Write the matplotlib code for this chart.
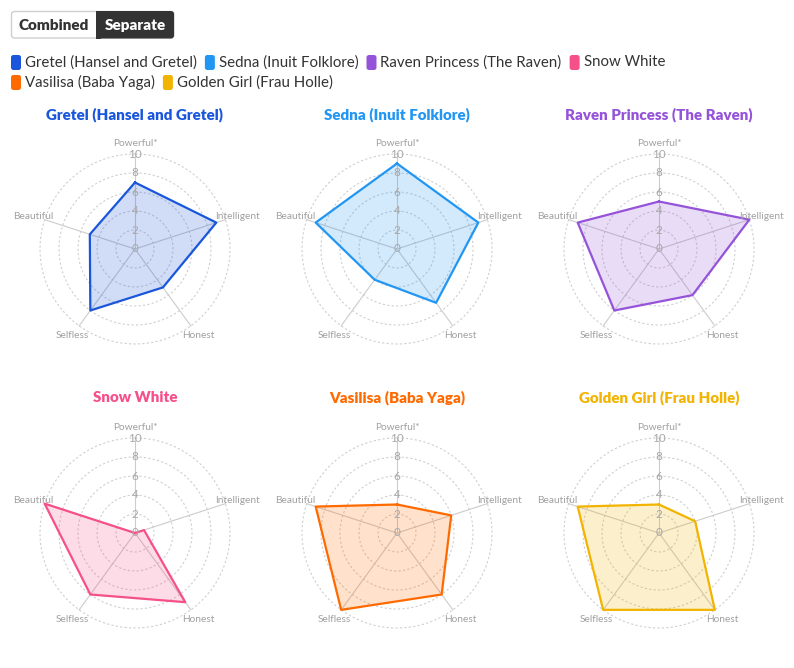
import matplotlib
matplotlib.use('Agg')
import matplotlib.pyplot as plt
import numpy as np
from matplotlib.patches import FancyBboxPatch, Rectangle
from matplotlib.transforms import Affine2D

plt.rcParams['font.family'] = ['Lato', 'DejaVu Sans']

# ---------------- data ----------------
axis_labels = ['Powerful*', 'Intelligent', 'Honest', 'Selfless', 'Beautiful']
names = ['Gretel (Hansel and Gretel)', 'Sedna (Inuit Folklore)', 'Raven Princess (The Raven)',
         'Snow White', 'Vasilisa (Baba Yaga)', 'Golden Girl (Frau Holle)']
colors = ['#1a56db', '#2196f3', '#9553d9', '#f5508a', '#ff6a00', '#f2b400']
gretel = [7, 9, 5, 8, 5]
sedna = [9, 9, 7, 4, 9]
raven = [5, 10, 6, 8, 9]
snow_white = [0, 1, 9, 8, 10]
vasilisa = [3, 6, 8, 10, 9]
golden_girl = [3, 4, 10, 10, 9]
series = [gretel, sedna, raven, snow_white, vasilisa, golden_girl]
ticks = [0, 2, 4, 6, 8, 10]
rmax = 10

# ---------------- figure ----------------
W, H = 794, 668
fig = plt.figure(figsize=(W / 100, H / 100), dpi=100)
fig.patch.set_facecolor('white')
pix = Affine2D().scale(1 / W, -1 / H).translate(0, 1) + fig.transFigure

# toggle button
fig.patches.append(FancyBboxPatch((11.5, 11.5), 162.5, 26.5, boxstyle='round,pad=0,rounding_size=3',
                                  transform=pix, facecolor='white', edgecolor='#cfcfcf', lw=1))
fig.patches.append(FancyBboxPatch((96, 11), 78, 27.5, boxstyle='round,pad=0,rounding_size=3',
                                  transform=pix, facecolor='#333333', edgecolor='none'))
fig.patches.append(Rectangle((96, 11), 5, 27.5, transform=pix, facecolor='#333333', edgecolor='none'))
fig.text(53.5, 25, 'Combined', transform=pix, ha='center', va='center', fontsize=11,
         fontweight='heavy', color='#333333')
fig.text(135, 25, 'Separate', transform=pix, ha='center', va='center', fontsize=11,
         fontweight='heavy', color='white')

# legend (flow layout)
renderer = fig.canvas.get_renderer()
rows = [[0, 1, 2, 3], [4, 5]]
row_y = [62.5, 82.5]
for r, idxs in enumerate(rows):
    x = 11
    for i in idxs:
        y = row_y[r]
        fig.patches.append(FancyBboxPatch((x, y - 7.5), 10, 15, boxstyle='round,pad=0,rounding_size=2.5',
                                          transform=pix, facecolor=colors[i], edgecolor='none'))
        t = fig.text(x + 14, y, names[i], transform=pix, ha='left', va='center',
                     fontsize=10.8, color='#333333')
        bb = t.get_window_extent(renderer)
        x = x + 14 + bb.width + 8

# radar charts
R = 95
centers = [(135, 249), (397, 249), (659, 249), (135, 533), (397, 533), (659, 533)]
n = len(axis_labels)
angles = np.linspace(0, 2 * np.pi, n, endpoint=False)
label_offsets = [(0, 106, 'center'), (80, 32.6, 'left'), (47.5, -87, 'left'),
                 (-46, -87, 'right'), (-82, 32.6, 'right')]
ring_theta = np.linspace(0, 2 * np.pi, 400)

for k, (cx, cy) in enumerate(centers):
    ax = fig.add_axes([(cx - R) / W, (H - cy - R) / H, 2 * R / W, 2 * R / H], projection='polar')
    ax.set_theta_zero_location('N')
    ax.set_theta_direction(-1)
    ax.set_ylim(0, rmax)
    ax.axis('off')
    for v in ticks[1:]:
        ax.plot(ring_theta, np.full_like(ring_theta, v), color='#cfcfcf', lw=0.8,
                ls=(0, (2, 2)), zorder=1, clip_on=False)
    for th in angles:
        ax.plot([th, th], [0, rmax], color='#cccccc', lw=0.8, zorder=1, clip_on=False)
    vals = series[k]
    th_c = np.concatenate([angles, angles[:1]])
    v_c = np.concatenate([vals, vals[:1]])
    ax.fill(th_c, v_c, color=colors[k], alpha=0.2, lw=0, zorder=2)
    ax.plot(th_c, v_c, color=colors[k], lw=1.6, zorder=3, clip_on=False)
    for v in ticks:
        ax.text(0, v, str(v), ha='center', va='center', fontsize=8.5, color='#a8a8a8', zorder=4)
    for lab, (dx, dy, ha) in zip(axis_labels, label_offsets):
        ax.annotate(lab, xy=(0, 0), xytext=(dx, dy), textcoords='offset pixels',
                    ha=ha, va='center', fontsize=7.3, color='#a0a0a0', annotation_clip=False)
    ty = 115 if k < 3 else 398
    fig.text(cx, ty, names[k], transform=pix, ha='center', va='center', fontsize=10.9,
             fontweight='heavy', color=colors[k])

fig.savefig('out.png', dpi=100, facecolor='white')
